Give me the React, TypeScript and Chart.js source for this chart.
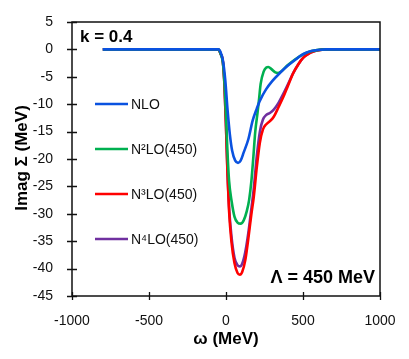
import React, { useEffect, useRef } from "react";
import { Chart, registerables } from "chart.js";

Chart.register(...registerables);

// ---- data (ω in MeV, Imag Σ in MeV) ----
const nloOmega = [-800, -50, -35, -20, -5, 10, 25, 40, 60, 78, 95, 115, 145, 173, 200, 221, 260, 300, 350, 400, 450, 481, 520, 560, 610, 650, 1000];
const nloValues = [0, 0, -0.5, -2, -5.5, -11, -15.5, -18.5, -20.3, -20.7, -20.3, -18.8, -16.4, -13, -10.8, -9.3, -7.3, -5.8, -4.3, -3, -1.9, -1.2, -0.6, -0.25, -0.05, 0, 0];

const n2loOmega = [-800, -50, -35, -20, -10, 0, 10, 20, 37, 55, 75, 95, 115, 135, 150, 165, 178, 190, 205, 215, 225, 245, 262, 275, 295, 320, 338, 360, 400, 450, 500, 550, 600, 650, 1000];
const n2loValues = [0, 0, -0.8, -2.5, -6, -12, -19, -24, -27.8, -30.5, -31.6, -31.8, -31.2, -29.5, -27.5, -24, -19.5, -15, -11.5, -9, -6.3, -4, -3.3, -3.2, -3.6, -4.2, -4.3, -4, -2.9, -1.8, -0.9, -0.35, -0.08, 0, 0];

const n3loOmega = [-800, -50, -35, -20, -10, 0, 10, 20, 35, 55, 75, 90, 105, 125, 145, 165, 180, 200, 220, 240, 260, 285, 310, 340, 372, 400, 437, 470, 502, 535, 567, 600, 640, 1000];
const n3loValues = [0, 0, -0.8, -2.3, -6.5, -14, -23, -29.5, -35, -39, -40.8, -41.1, -40.6, -38.5, -34.5, -30, -27, -21.5, -17, -14.6, -13.7, -13.1, -12.3, -10.6, -8.7, -6.8, -4.3, -2.7, -1.5, -0.8, -0.4, -0.15, 0, 0];

const n4loOmega = [-800, -50, -35, -20, -10, 0, 10, 20, 35, 55, 75, 90, 105, 125, 145, 165, 180, 200, 220, 240, 260, 285, 310, 340, 372, 400, 437, 470, 502, 535, 567, 600, 640, 1000];
const n4loValues = [0, 0, -0.8, -2.3, -6.5, -14, -22.5, -28.8, -34, -38, -39.4, -39.6, -39.1, -37, -33.5, -29, -25.5, -19.5, -15, -12.8, -12, -11.6, -11, -9.8, -8.1, -6.5, -4.3, -2.7, -1.5, -0.8, -0.4, -0.15, 0, 0];

const seriesLabels = ["NLO", "N\u00B2LO(450)", "N\u00B3LO(450)", "N\u2074LO(450)"];
const seriesColors = ["#0a52e0", "#00b050", "#ff0000", "#7030a0"];

const xTickValues = [-1000, -500, 0, 500, 1000];
const yTickValues = [5, 0, -5, -10, -15, -20, -25, -30, -35, -40, -45];

const xTitle = "\u03C9 (MeV)";
const yTitle = "Imag \u03A3 (MeV)";
const topLeftNote = "k = 0.4";
const bottomRightNote = "\u039B = 450 MeV";

const FONT = "'Liberation Sans', Arial, sans-serif";

function toPoints(xs: number[], ys: number[]) {
  return xs.map((x, i) => ({ x, y: ys[i] }));
}

const decorPlugin = {
  id: "decor",
  afterDraw(chart: any) {
    const { ctx, chartArea } = chart;
    const xs = chart.scales.x;
    const ys = chart.scales.y;
    ctx.save();
    // frame
    ctx.strokeStyle = "#111";
    ctx.lineWidth = 1.5;
    ctx.strokeRect(chartArea.left, chartArea.top, chartArea.right - chartArea.left, chartArea.bottom - chartArea.top);
    // crossing ticks
    ctx.lineWidth = 1.3;
    ctx.beginPath();
    for (const v of yTickValues) {
      const py = Math.round(ys.getPixelForValue(v)) + 0.5;
      ctx.moveTo(chartArea.left - 5, py);
      ctx.lineTo(chartArea.left + 5, py);
    }
    for (const v of xTickValues) {
      const px = Math.round(xs.getPixelForValue(v)) + 0.5;
      ctx.moveTo(px, chartArea.bottom - 4);
      ctx.lineTo(px, chartArea.bottom + 4);
    }
    ctx.stroke();

    // legend
    const legendTop = 104;
    const legendGap = 45;
    seriesLabels.forEach((lab, i) => {
      const y = legendTop + i * legendGap;
      ctx.strokeStyle = seriesColors[i];
      ctx.lineWidth = 2.5;
      ctx.beginPath();
      ctx.moveTo(95, y);
      ctx.lineTo(128, y);
      ctx.stroke();
      ctx.fillStyle = "#111";
      ctx.font = `14px ${FONT}`;
      ctx.textAlign = "left";
      ctx.textBaseline = "middle";
      ctx.fillText(lab, 131, y + 1);
    });

    // notes
    ctx.fillStyle = "#000";
    ctx.font = `bold 17px ${FONT}`;
    ctx.textAlign = "left";
    ctx.textBaseline = "alphabetic";
    ctx.fillText(topLeftNote, 80, 42);
    ctx.font = `bold 18px ${FONT}`;
    ctx.textAlign = "right";
    ctx.fillText(bottomRightNote, 375, 283);

    // axis titles
    ctx.font = `bold 17px ${FONT}`;
    ctx.textAlign = "center";
    ctx.fillText(xTitle, (chartArea.left + chartArea.right) / 2, 344);
    ctx.save();
    ctx.translate(27, (chartArea.top + chartArea.bottom) / 2 - 1);
    ctx.rotate(-Math.PI / 2);
    ctx.fillText(yTitle, 0, 0);
    ctx.restore();
    ctx.restore();
  },
};

export default function App() {
  const ref = useRef<HTMLCanvasElement | null>(null);
  useEffect(() => {
    if (!ref.current) return;
    const series = [
      [nloOmega, nloValues],
      [n2loOmega, n2loValues],
      [n3loOmega, n3loValues],
      [n4loOmega, n4loValues],
    ];
    const chart = new Chart(ref.current, {
      type: "line",
      data: {
        datasets: series.map(([xs, ys], i) => ({
          label: seriesLabels[i],
          data: toPoints(xs, ys),
          borderColor: seriesColors[i],
          borderWidth: 2.6,
          pointRadius: 0,
          cubicInterpolationMode: "monotone" as const,
          fill: false,
        })),
      },
      options: {
        responsive: false,
        animation: false,
        layout: { padding: { top: 22, right: 29, left: 0, bottom: 0 } },
        plugins: { legend: { display: false }, tooltip: { enabled: false } },
        scales: {
          x: {
            type: "linear",
            min: -1000,
            max: 1000,
            afterBuildTicks: (s: any) => {
              s.ticks = xTickValues.map((v) => ({ value: v }));
            },
            afterFit: (s: any) => {
              s.height = 63;
            },
            grid: { display: false },
            border: { display: false },
            ticks: {
              color: "#111",
              font: { family: FONT, size: 14 },
              padding: 9,
              maxRotation: 0,
              callback: (v: any) => String(v),
            },
          },
          y: {
            type: "linear",
            min: -45,
            max: 5,
            afterBuildTicks: (s: any) => {
              s.ticks = yTickValues.map((v) => ({ value: v }));
            },
            afterFit: (s: any) => {
              s.width = 72;
            },
            grid: { display: false },
            border: { display: false },
            ticks: {
              color: "#111",
              font: { family: FONT, size: 14 },
              padding: 11,
              callback: (v: any) => String(v),
            },
          },
        },
      },
      plugins: [decorPlugin],
    });
    return () => chart.destroy();
  }, []);
  return (
    <div style={{ position: "fixed", left: 0, top: 0, width: 409, height: 359, background: "#fff" }}>
      <canvas ref={ref} width={409} height={359} style={{ display: "block" }} />
    </div>
  );
}
